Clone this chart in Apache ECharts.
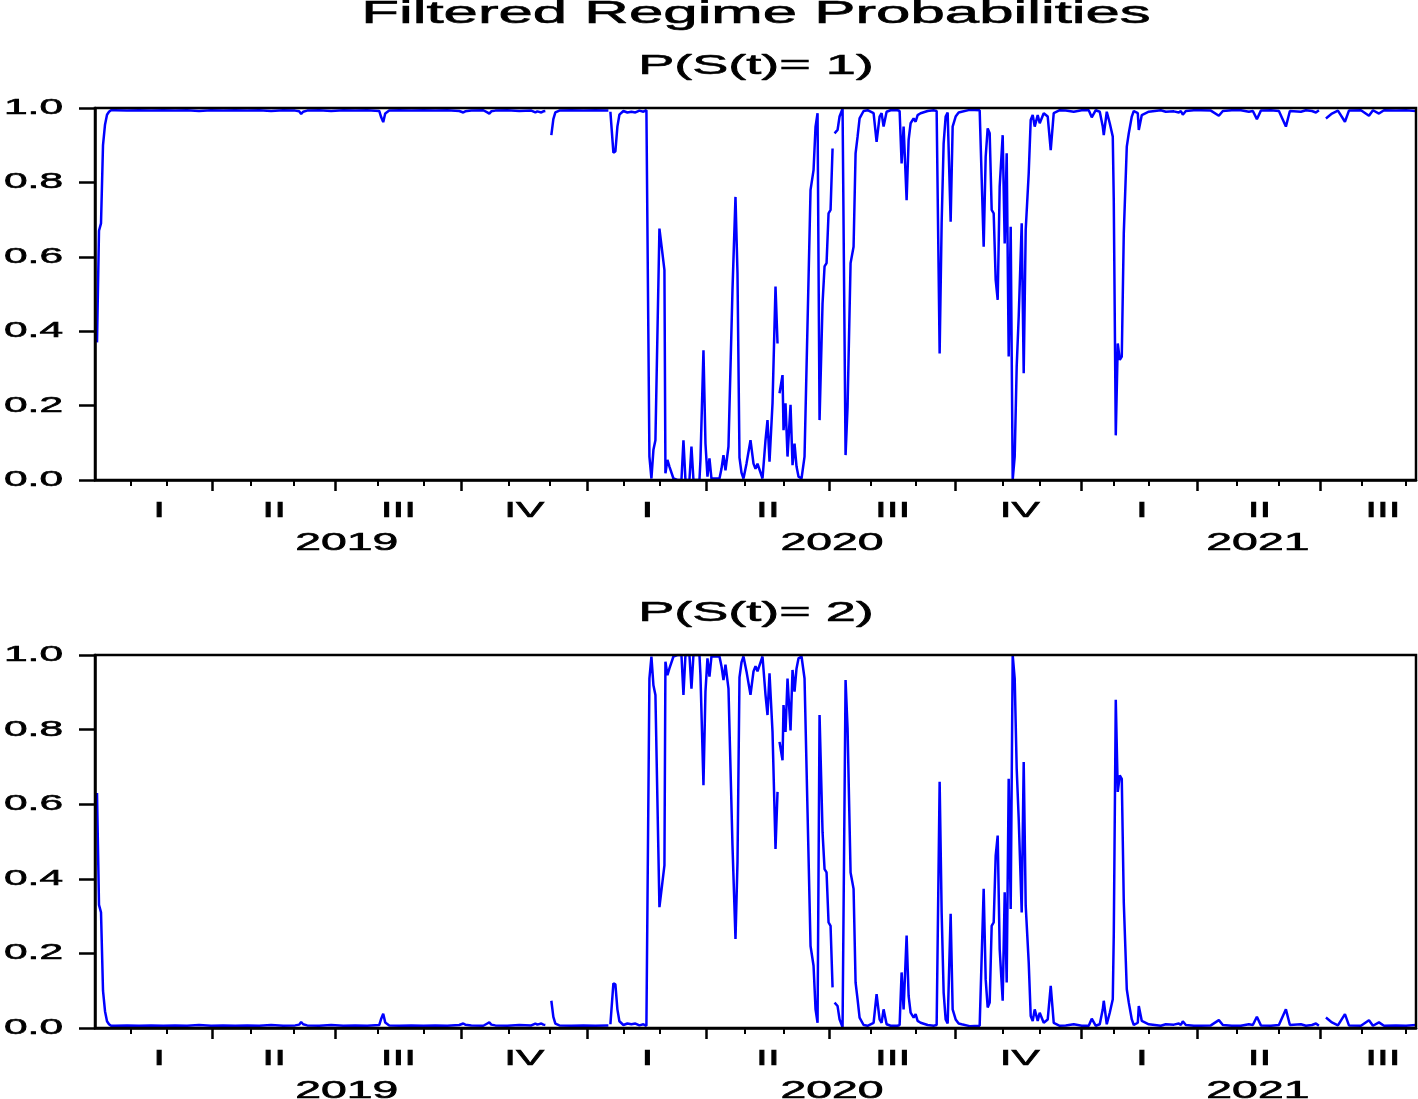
<!DOCTYPE html>
<html>
<head>
<meta charset="utf-8">
<script src="https://cdn.jsdelivr.net/npm/echarts@6/dist/echarts.min.js"></script>
<style>
html,body{margin:0;padding:0;background:#ffffff;}
#chart{width:1418px;height:1099px;}
</style>
</head>
<body>
<div id="chart"></div>
<script>
// ---------- texts ----------
const mainTitle = 'Filtered Regime Probabilities';
const panelTitles = ['P(S(t)= 1)', 'P(S(t)= 2)'];

// ---------- data: [observation index, probability] ----------
const p1 = [
[1,0.37],[2,0.67],[3,0.69],[4,0.9],[5,0.955],[6,0.982],[7,0.99],[8,0.994],
[10,0.994],[16,0.993],[22,0.994],[28,0.993],[34,0.994],[40,0.993],[46,0.994],[52,0.992],[58,0.994],[64,0.993],[70,0.994],[76,0.993],[82,0.994],[88,0.992],[94,0.994],[100,0.993],[102,0.991],[103,0.984],[104,0.99],[106,0.993],[112,0.994],[118,0.992],[124,0.994],[130,0.993],[136,0.994],[142,0.992],[143,0.975],[144,0.962],[145,0.985],[147,0.993],[152,0.994],[158,0.993],[164,0.994],[170,0.993],[176,0.994],[182,0.992],[184,0.988],[185,0.991],[188,0.993],[194,0.994],[196,0.988],[197,0.985],[198,0.991],[200,0.993],[206,0.994],[212,0.992],[218,0.993],[220,0.988],[221,0.991],[223,0.988],[224,0.991],[225,0.992],[226,null],
[228,0.927],[229,0.97],[230,0.988],[232,0.993],[238,0.994],[244,0.993],[250,0.994],[256,0.993],[256.5,0.993],[257,null],[257.5,0.99],[259,0.88],[260,0.883],[261,0.95],[262,0.982],[264,0.992],[266,0.988],[268,0.99],[270,0.988],[272,0.993],[274,0.99],[275.5,0.994],
[277,0.063],[278,0.004],[279,0.081],[280,0.107],[282,0.676],[283.5,0.609],[284.5,0.564],[285,0.018],[286,0.054],[287,0.036],[289,0.004],[291,0],[293,0],[294,0.107],[295,0],[297,0],[298,0.09],[299,0],[302,0],[302.5,0.054],[304,0.349],[305,0.098],[306,0.009],[307,0.058],[308,0.004],[312,0.004],[313,0.03],[314,0.067],[315,0.026],[316.5,0.09],[318.5,0.511],[320,0.761],[321,0.556],[322,0.06],[323,0.02],[324,0.004],[325.5,0.044],[327.5,0.107],[329,0.044],[330,0.03],[331,0.044],[333.5,0.004],[335,0.107],[336,0.161],[337,0.049],[338.5,0.206],[340,0.52],[341,0.367],[341.5,null],
[342,0.233],[343.5,0.282],[344,0.134],[345,0.206],[346,0.063],[347.5,0.202],[348.5,0.04],[349.5,0.098],[350.5,0.036],[351.5,0.009],[353,0.004],[354.5,0.063],[356,0.421],[357.5,0.78],[359,0.833],[360,0.95],[361,0.986],[362,0.161],[363.5,0.475],[364.5,0.574],[365.5,0.583],[366.5,0.717],[367.5,0.726],[368.5,0.891],[369,null],
[369.5,0.932],[371,0.941],[372,0.977],[373.5,0.998],[375,0.067],[376,0.197],[377.5,0.583],[379,0.627],[380,0.878],[381,0.923],[382,0.972],[384,0.992],[386,0.994],[389,0.986],[390.5,0.909],[392,0.977],[393,0.986],[394,0.95],[395.5,0.99],[397.5,0.994],[401,0.994],[402,0.992],[403,0.851],[404,0.95],[405.5,0.752],[406.5,0.914],[407.5,0.959],[409,0.972],[410,0.963],[411,0.981],[412.5,0.986],[416,0.992],[419,0.994],[420.5,0.992],[422,0.34],[423,0.69],[424,0.905],[425,0.977],[426,0.988],[427.5,0.694],[428.5,0.95],[430,0.977],[431.5,0.988],[433,0.99],[437,0.995],[442,0.994],[444,0.627],[445,0.869],[446,0.945],[447,0.932],[448,0.726],[449,0.717],[450,0.538],[451,0.484],[452,0.789],[453.5,0.927],[454.5,0.636],[455.5,0.878],[456.5,0.332],[457.5,0.681],[458.5,0],[459.5,0.063],[460.5,0.305],[461.5,0.439],[463,0.69],[464,0.287],[465,0.672],[466.5,0.824],[467.5,0.968],[468.5,0.981],[469.5,0.95],[471,0.981],[472,0.959],[474,0.986],[476,0.977],[477.5,0.887],[479,0.986],
[482,0.994],[485,0.993],[489,0.99],[493,0.994],[496.5,0.994],[498,0.975],[500,0.994],[502,0.99],[503.5,0.95],[504,0.927],[505.5,0.99],[507,0.959],[508.5,0.923],[509,0.75],[510,0.12],[511,0.367],[512,0.323],[513,0.332],[514,0.663],[515.5,0.896],[516.5,0.932],[518,0.977],[519,0.992],[521,0.986],[521.5,0.941],[523,0.981],[526.5,0.99],[532.5,0.994],[535,0.99],[539,0.991],
[541.5,0.988],[542.5,0.992],[543.5,0.982],[545,0.992],[549,0.994],[552.5,0.994],[557.5,0.993],[561.5,0.979],[563.5,0.992],[568,0.994],[572.5,0.994],[576.5,0.99],[578.5,0.992],[580.5,0.97],[582.5,0.993],[587.5,0.994],[591.5,0.992],[595,0.95],[597,0.992],[602.5,0.99],[605,0.994],[608,0.992],[610,0.988],[611.5,0.994],[612.5,null],[615,0.972],[618,0.985],[621,0.993],[624.5,0.963],[626.5,0.993],[632.5,0.994],[636.5,0.979],[638.5,0.994],[641.5,0.985],[644,0.994],[650,0.993],[655,0.994],[660,0.992]
];

const p2 = [
[1,0.63],[2,0.33],[3,0.31],[4,0.1],[5,0.045],[6,0.018],[7,0.01],[8,0.006],
[10,0.006],[16,0.007],[22,0.006],[28,0.007],[34,0.006],[40,0.007],[46,0.006],[52,0.008],[58,0.006],[64,0.007],[70,0.006],[76,0.007],[82,0.006],[88,0.008],[94,0.006],[100,0.007],[102,0.009],[103,0.016],[104,0.01],[106,0.007],[112,0.006],[118,0.008],[124,0.006],[130,0.007],[136,0.006],[142,0.008],[143,0.025],[144,0.038],[145,0.015],[147,0.007],[152,0.006],[158,0.007],[164,0.006],[170,0.007],[176,0.006],[182,0.008],[184,0.012],[185,0.009],[188,0.007],[194,0.006],[196,0.012],[197,0.015],[198,0.009],[200,0.007],[206,0.006],[212,0.008],[218,0.007],[220,0.012],[221,0.009],[223,0.012],[224,0.009],[225,0.008],[226,null],
[228,0.073],[229,0.03],[230,0.012],[232,0.007],[238,0.006],[244,0.007],[250,0.006],[256,0.007],[256.5,0.007],[257,null],[257.5,0.01],[259,0.12],[260,0.117],[261,0.05],[262,0.018],[264,0.008],[266,0.012],[268,0.01],[270,0.012],[272,0.007],[274,0.01],[275.5,0.006],
[277,0.937],[278,0.996],[279,0.919],[280,0.893],[282,0.324],[283.5,0.391],[284.5,0.436],[285,0.982],[286,0.946],[287,0.964],[289,0.996],[291,1],[293,1],[294,0.893],[295,1],[297,1],[298,0.91],[299,1],[302,1],[302.5,0.946],[304,0.651],[305,0.902],[306,0.991],[307,0.942],[308,0.996],[312,0.996],[313,0.97],[314,0.933],[315,0.974],[316.5,0.91],[318.5,0.489],[320,0.239],[321,0.444],[322,0.94],[323,0.98],[324,0.996],[325.5,0.956],[327.5,0.893],[329,0.956],[330,0.97],[331,0.956],[333.5,0.996],[335,0.893],[336,0.839],[337,0.951],[338.5,0.794],[340,0.48],[341,0.633],[341.5,null],
[342,0.767],[343.5,0.718],[344,0.866],[345,0.794],[346,0.937],[347.5,0.798],[348.5,0.96],[349.5,0.902],[350.5,0.964],[351.5,0.991],[353,0.996],[354.5,0.937],[356,0.579],[357.5,0.22],[359,0.167],[360,0.05],[361,0.014],[362,0.839],[363.5,0.525],[364.5,0.426],[365.5,0.417],[366.5,0.283],[367.5,0.274],[368.5,0.109],[369,null],
[369.5,0.068],[371,0.059],[372,0.023],[373.5,0.002],[375,0.933],[376,0.803],[377.5,0.417],[379,0.373],[380,0.122],[381,0.077],[382,0.028],[384,0.008],[386,0.006],[389,0.014],[390.5,0.091],[392,0.023],[393,0.014],[394,0.05],[395.5,0.01],[397.5,0.006],[401,0.006],[402,0.008],[403,0.149],[404,0.05],[405.5,0.248],[406.5,0.086],[407.5,0.041],[409,0.028],[410,0.037],[411,0.019],[412.5,0.014],[416,0.008],[419,0.006],[420.5,0.008],[422,0.66],[423,0.31],[424,0.095],[425,0.023],[426,0.012],[427.5,0.306],[428.5,0.05],[430,0.023],[431.5,0.012],[433,0.01],[437,0.005],[442,0.006],[444,0.373],[445,0.131],[446,0.055],[447,0.068],[448,0.274],[449,0.283],[450,0.462],[451,0.516],[452,0.211],[453.5,0.073],[454.5,0.364],[455.5,0.122],[456.5,0.668],[457.5,0.319],[458.5,1],[459.5,0.937],[460.5,0.695],[461.5,0.561],[463,0.31],[464,0.713],[465,0.328],[466.5,0.176],[467.5,0.032],[468.5,0.019],[469.5,0.05],[471,0.019],[472,0.041],[474,0.014],[476,0.023],[477.5,0.113],[479,0.014],
[482,0.006],[485,0.007],[489,0.01],[493,0.006],[496.5,0.006],[498,0.025],[500,0.006],[502,0.01],[503.5,0.05],[504,0.073],[505.5,0.01],[507,0.041],[508.5,0.077],[509,0.25],[510,0.88],[511,0.633],[512,0.677],[513,0.668],[514,0.337],[515.5,0.104],[516.5,0.068],[518,0.023],[519,0.008],[521,0.014],[521.5,0.059],[523,0.019],[526.5,0.01],[532.5,0.006],[535,0.01],[539,0.009],
[541.5,0.012],[542.5,0.008],[543.5,0.018],[545,0.008],[549,0.006],[552.5,0.006],[557.5,0.007],[561.5,0.021],[563.5,0.008],[568,0.006],[572.5,0.006],[576.5,0.01],[578.5,0.008],[580.5,0.03],[582.5,0.007],[587.5,0.006],[591.5,0.008],[595,0.05],[597,0.008],[602.5,0.01],[605,0.006],[608,0.008],[610,0.012],[611.5,0.006],[612.5,null],[615,0.028],[618,0.015],[621,0.007],[624.5,0.037],[626.5,0.007],[632.5,0.006],[636.5,0.021],[638.5,0.006],[641.5,0.015],[644,0.006],[650,0.007],[655,0.006],[660,0.008]
];

// ---------- axis: observation index of month / quarter starts, label centres ----------
const obsRange = [0, 660];
const monthTicks = [18,36,78,99.5,141.5,164.5,206.5,227,264,282,324.5,344,387.5,410,453.5,472,509,526.5,570.5,591.5,633,655];
const quarterTicks = [58.5,120,183,246,305.25,366.85,430,493,550.5,612.25];
const quarterLabelPos = [32,89.5,151.6,214.5,276,336.2,398.5,462,523,581.8,643.5];
const quarterLabels = ['I','II','III','IV','I','II','III','IV','I','II','III'];
const yearLabelPos = [125.75,368.25,581];
const yearLabels = ['2019','2020','2021'];
const yRange = [0, 1];
const yStep = 0.2;

// ---------- chart ----------
const FONT = '"Liberation Sans", Arial, Helvetica, sans-serif';
const STRETCH = 1.93;   // the reference lettering is horizontally widened
const INK = {textBorderColor: '#000', textBorderWidth: 0.6};
const chart = echarts.init(document.getElementById('chart'), null, {renderer: 'canvas'});

function lookup(pos, labels) {
  return function (v) {
    for (let i = 0; i < pos.length; i++) if (Math.abs(pos[i] - v) < 1e-6) return labels[i];
    return '';
  };
}

const grids = [
  {left: 95, right: 2, top: 108, height: 372},
  {left: 95, right: 2, top: 655, height: 373}
];
const titleTops = [52, 599];
const xAxis = [], yAxis = [], series = [], title = [];

title.push({
  text: mainTitle, left: 756, top: -2, padding: 0, textAlign: 'center', textVerticalAlign: 'top',
  textStyle: Object.assign({fontFamily: FONT, fontSize: 32, fontWeight: 'normal', color: '#000'}, INK)
});

grids.forEach(function (g, i) {
  g.show = true; g.borderColor = '#000'; g.borderWidth = 2.5; g.backgroundColor = 'transparent';
  g.z = 5; g.outerBoundsMode = 'none'; g.containLabel = false;
  title.push({
    text: panelTitles[i], left: 756, top: titleTops[i], padding: 0, textAlign: 'center', textVerticalAlign: 'top',
    textStyle: Object.assign({fontFamily: FONT, fontSize: 28, fontWeight: 'normal', color: '#000'}, INK)
  });
  // month ticks + quarter numerals
  xAxis.push({
    gridIndex: i, type: 'value', min: obsRange[0], max: obsRange[1], position: 'bottom', offset: 0, z: 5,
    axisLine: {show: true, onZero: false, lineStyle: {color: '#000', width: 2.5}},
    axisTick: {show: true, inside: false, length: 6, customValues: monthTicks, lineStyle: {color: '#000', width: 2}},
    axisLabel: Object.assign({show: true, customValues: quarterLabelPos, formatter: lookup(quarterLabelPos, quarterLabels),
      margin: 20, color: '#000', fontFamily: FONT, fontSize: 22, hideOverlap: false}, INK),
    splitLine: {show: false}
  });
  // quarter ticks + years
  xAxis.push({
    gridIndex: i, type: 'value', min: obsRange[0], max: obsRange[1], position: 'bottom', offset: 0, z: 5,
    axisLine: {show: false, onZero: false},
    axisTick: {show: true, inside: false, length: 11, customValues: quarterTicks, lineStyle: {color: '#000', width: 2.5}},
    axisLabel: Object.assign({show: true, customValues: yearLabelPos, formatter: lookup(yearLabelPos, yearLabels),
      margin: 51, color: '#000', fontFamily: FONT, fontSize: 24, hideOverlap: false}, INK),
    splitLine: {show: false}
  });
  yAxis.push({
    gridIndex: i, type: 'value', min: yRange[0], max: yRange[1], interval: yStep, z: 5,
    axisLine: {show: true, onZero: false, lineStyle: {color: '#000', width: 2.5}},
    axisTick: {show: true, inside: false, length: 16, lineStyle: {color: '#000', width: 2.5}},
    axisLabel: Object.assign({show: true, margin: 32, color: '#000', fontFamily: FONT, fontSize: 22,
      formatter: function (v) { return v.toFixed(1); }}, INK),
    splitLine: {show: false}
  });
});

series.push({
  type: 'line', xAxisIndex: 0, yAxisIndex: 0, data: p1, showSymbol: false, symbol: 'none',
  connectNulls: false, silent: true, z: 2, lineStyle: {color: '#0000ff', width: 2.5}
});
series.push({
  type: 'line', xAxisIndex: 2, yAxisIndex: 1, data: p2, showSymbol: false, symbol: 'none',
  connectNulls: false, silent: true, z: 2, lineStyle: {color: '#0000ff', width: 2.5}
});

chart.setOption({
  animation: false,
  backgroundColor: '#ffffff',
  title: title,
  grid: grids,
  xAxis: xAxis,
  yAxis: yAxis,
  tooltip: {show: false},
  series: series
});

// widen all lettering horizontally around its own anchor, like the reference graph
function widen(el) {
  if (!el) return;
  if (el.type === 'text') { el.scaleX = STRETCH; el.markRedraw(); }
  if (el.isGroup) el.childrenRef().forEach(widen);
}
chart.getZr().storage.getRoots().forEach(widen);
chart.getZr().refreshImmediately();
</script>
</body>
</html>
